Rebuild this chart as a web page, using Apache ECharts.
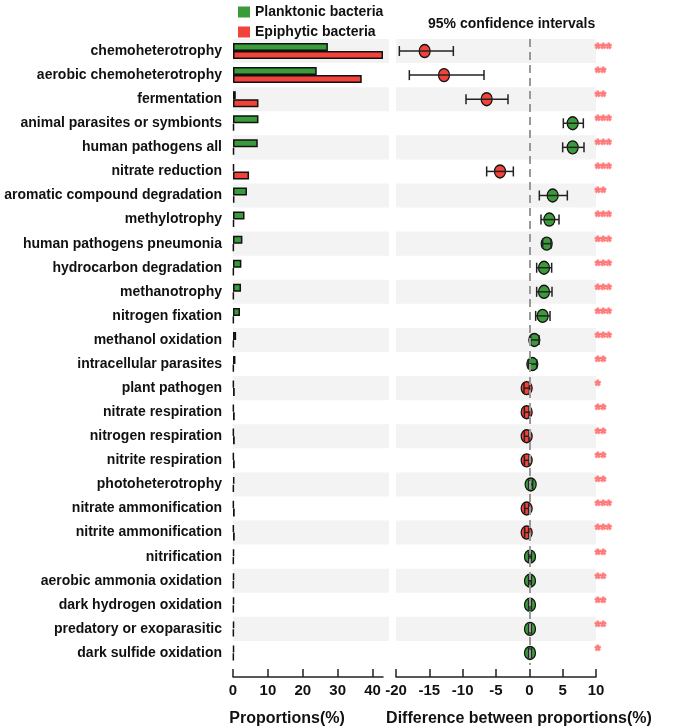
<!DOCTYPE html>
<html>
<head>
<meta charset="utf-8">
<script src="https://cdn.jsdelivr.net/npm/echarts@6/dist/echarts.min.js"></script>
<style>html,body{margin:0;padding:0;background:#fff;}#c{width:685px;height:726px;}</style>
</head>
<body>
<div id="c"></div>
<script>
const categories = ['chemoheterotrophy','aerobic chemoheterotrophy','fermentation','animal parasites or symbionts','human pathogens all','nitrate reduction','aromatic compound degradation','methylotrophy','human pathogens pneumonia','hydrocarbon degradation','methanotrophy','nitrogen fixation','methanol oxidation','intracellular parasites','plant pathogen','nitrate respiration','nitrogen respiration','nitrite respiration','photoheterotrophy','nitrate ammonification','nitrite ammonification','nitrification','aerobic ammonia oxidation','dark hydrogen oxidation','predatory or exoparasitic','dark sulfide oxidation'];
const planktonic = [27.2, 24.0, 0.8, 7.3, 7.1, 0.3, 4.0, 3.3, 2.7, 2.4, 2.3, 2.0, 0.9, 0.7, 0.2, 0.2, 0.2, 0.2, 0.4, 0.2, 0.2, 0.3, 0.3, 0.3, 0.3, 0.3];
const epiphytic = [43.0, 36.9, 7.3, 0.3, 0.3, 4.6, 0.4, 0.3, 0.2, 0.2, 0.2, 0.2, 0.2, 0.2, 0.5, 0.5, 0.5, 0.5, 0.2, 0.5, 0.5, 0.2, 0.2, 0.2, 0.2, 0.2];
const diff = [-15.7, -12.8, -6.4, 6.5, 6.5, -4.4, 3.5, 3.0, 2.6, 2.2, 2.2, 2.0, 0.75, 0.45, -0.4, -0.4, -0.4, -0.4, 0.2, -0.4, -0.4, 0.1, 0.1, 0.1, 0.1, 0.1];
const ciLow = [-19.5, -18.0, -9.5, 5.1, 5.0, -6.4, 1.5, 1.75, 2.0, 1.1, 1.1, 0.95, 0.2, -0.15, -0.8, -0.75, -0.75, -0.75, -0.1, -0.7, -0.7, -0.1, -0.1, -0.1, -0.1, -0.1];
const ciHigh = [-11.4, -6.8, -3.2, 8.1, 8.2, -2.4, 5.7, 4.45, 3.25, 3.35, 3.4, 3.1, 1.45, 1.1, 0.0, -0.05, -0.05, -0.05, 0.5, -0.1, -0.1, 0.3, 0.3, 0.3, 0.3, 0.3];
const stars = ['***','**','**','***','***','***','**','***','***','***','***','***','***','**','*','**','**','**','**','***','***','**','**','**','**','*'];
const propTicks = [0, 10, 20, 30, 40];
const diffTicks = [-20, -15, -10, -5, 0, 5, 10];

const GREEN = '#3b9b3b', RED = '#f2433a', FONT = "'Liberation Sans', Arial, sans-serif";
const chart = echarts.init(document.getElementById('c'), null, {renderer: 'canvas'});
const TOP = 39, H = 626;
const axisCommon = {
  offset: 12,
  axisLine: {show: true, lineStyle: {color: '#222', width: 1.5}},
  axisTick: {show: true, inside: true, length: 8, lineStyle: {color: '#222', width: 1.5}},
  axisLabel: {color: '#111', fontSize: 15, fontWeight: 'bold', fontFamily: FONT, margin: 6},
  splitLine: {show: false},
  nameLocation: 'middle', nameGap: 34,
  nameTextStyle: {color: '#111', fontSize: 16, fontWeight: 'bold', fontFamily: FONT}
};
const gridCommon = {top: TOP, height: H, outerBoundsMode: 'none', containLabel: false};
chart.setOption({
  backgroundColor: '#fff',
  animation: false,
  textStyle: {fontFamily: FONT},
  title: {text: '95% confidence intervals', left: 423, top: 12,
    textStyle: {fontSize: 14, fontWeight: 'bold', color: '#111', fontFamily: FONT}},
  legend: {orient: 'vertical', left: 233, top: 0, itemWidth: 12, itemHeight: 11, itemGap: 6,
    icon: 'rect', itemStyle: {borderWidth: 0},
    textStyle: {fontSize: 14, fontWeight: 'bold', color: '#111', fontFamily: FONT},
    data: ['Planktonic bacteria', 'Epiphytic bacteria']},
  grid: [
    Object.assign({left: 233, width: 150}, gridCommon),
    Object.assign({left: 396, width: 200}, gridCommon),
    Object.assign({left: 233, width: 156}, gridCommon)
  ],
  xAxis: [
    Object.assign({}, axisCommon, {gridIndex: 0, type: 'value', min: propTicks[0], max: 43, interval: 10,
      name: 'Proportions(%)', nameTextStyle: Object.assign({}, axisCommon.nameTextStyle, {padding: [0, 42, 0, 0]}),
      axisLabel: Object.assign({}, axisCommon.axisLabel, {showMaxLabel: false})}),
    Object.assign({}, axisCommon, {gridIndex: 1, type: 'value', min: diffTicks[0], max: diffTicks[diffTicks.length-1], interval: 5,
      name: 'Difference between proportions(%)', nameTextStyle: Object.assign({}, axisCommon.nameTextStyle, {padding: [0, 0, 0, 46]})}),
    {gridIndex: 2, type: 'value', show: false, min: 0, max: 1}
  ],
  yAxis: [
    {gridIndex: 0, type: 'category', data: categories, inverse: true,
      axisLine: {show: false}, axisTick: {show: false}, splitLine: {show: false},
      axisLabel: {color: '#111', fontSize: 14, fontWeight: 'bold', fontFamily: FONT, margin: 11}},
    {gridIndex: 1, type: 'category', data: categories, inverse: true,
      axisLine: {show: false}, axisTick: {show: false}, axisLabel: {show: false}, splitLine: {show: false},
      splitArea: {show: true, areaStyle: {color: ['#f3f3f3', 'rgba(255,255,255,0)']}}},
    {gridIndex: 2, type: 'category', data: categories, inverse: true,
      axisLine: {show: false}, axisTick: {show: false}, axisLabel: {show: false}, splitLine: {show: false},
      splitArea: {show: true, areaStyle: {color: ['#f3f3f3', 'rgba(255,255,255,0)']}}}
  ],
  series: [
    {name: 'Planktonic bacteria', type: 'bar', xAxisIndex: 0, yAxisIndex: 0, data: planktonic,
      barWidth: 8, barGap: '0%', z: 3,
      itemStyle: {color: GREEN, borderColor: '#111', borderWidth: 1.5}},
    {name: 'Epiphytic bacteria', type: 'bar', xAxisIndex: 0, yAxisIndex: 0, data: epiphytic,
      barWidth: 8, barGap: '0%', z: 3,
      itemStyle: {color: RED, borderColor: '#111', borderWidth: 1.5}},
    {type: 'scatter', xAxisIndex: 1, yAxisIndex: 1, z: 3,
      data: diff.map((d, i) => [d, i]), symbol: 'circle', symbolSize: [11, 13],
      itemStyle: {color: p => p.value[0] < 0 ? RED : GREEN, borderColor: '#111', borderWidth: 1.3, opacity: 1},
      markLine: {silent: true, symbol: 'none', label: {show: false},
        lineStyle: {color: '#999', type: [8, 5], width: 2}, data: [{xAxis: 0}]}},
    {type: 'custom', xAxisIndex: 1, yAxisIndex: 1, z: 4,
      data: ciLow.map((lo, i) => [lo, ciHigh[i], i]),
      renderItem: function (params, api) {
        const a = api.coord([api.value(0), api.value(2)]);
        const b = api.coord([api.value(1), api.value(2)]);
        const h = 5, st = {stroke: '#222', lineWidth: 1.5};
        return {type: 'group', children: [
          {type: 'line', shape: {x1: a[0], y1: a[1], x2: b[0], y2: b[1]}, style: st},
          {type: 'line', shape: {x1: a[0], y1: a[1]-h, x2: a[0], y2: a[1]+h}, style: st},
          {type: 'line', shape: {x1: b[0], y1: b[1]-h, x2: b[0], y2: b[1]+h}, style: st}
        ]};
      }},
    {type: 'scatter', xAxisIndex: 1, yAxisIndex: 1, z: 5, symbolSize: 0,
      data: stars.map((s, i) => [diffTicks[diffTicks.length-1], i]),
      label: {show: true, position: 'right', distance: 0, offset: [-1, -2],
        formatter: p => stars[p.dataIndex],
        color: '#ff7272', fontSize: 14, fontWeight: 'bold', fontFamily: FONT,
        textBorderColor: '#ff7272', textBorderWidth: 1.2}}
  ]
});
</script>
</body>
</html>
